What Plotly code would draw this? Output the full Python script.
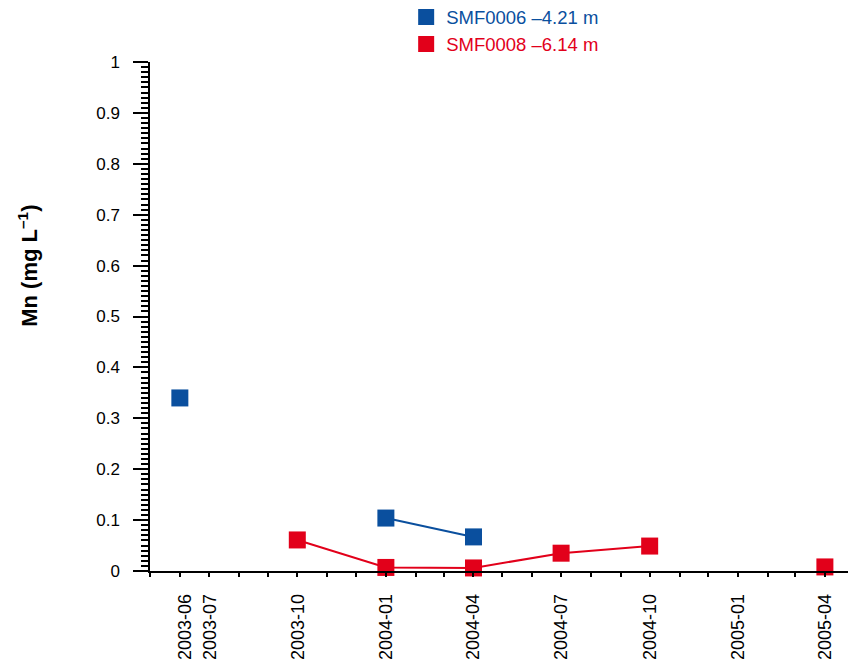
import plotly.graph_objects as go

# Sampling dates and Mn concentrations (mg/L); None marks a missing sample
dates = ["2003-06-01", "2003-10-01", "2004-01-01", "2004-04-01",
         "2004-07-01", "2004-10-01", "2005-01-01", "2005-04-01"]
smf0006 = [0.340, None, 0.104, 0.067, None, None, None, None]
smf0008 = [None, 0.061, 0.007, 0.006, 0.035, 0.049, None, 0.008]

series_names = ["SMF0006 \u20134.21 m", "SMF0008 \u20136.14 m"]
series_colors = ["#0a4f9e", "#e2001a"]

tick_dates = ["2003-06-07", "2003-07-03", "2003-10-02", "2004-01-01",
              "2004-04-01", "2004-07-01", "2004-10-01", "2005-01-01", "2005-04-01"]
tick_labels = ["2003-06", "2003-07", "2003-10", "2004-01",
               "2004-04", "2004-07", "2004-10", "2005-01", "2005-04"]
month_ticks = [f"{y}-{m:02d}-01" for y in (2003, 2004, 2005) for m in range(1, 13)
               if "2003-05-01" <= f"{y}-{m:02d}-01" <= "2005-04-01"]

FONT = "Arial, 'Liberation Sans', sans-serif"

fig = go.Figure()
for vals, name, color in zip([smf0006, smf0008], series_names, series_colors):
    # connecting line between consecutive samples
    fig.add_trace(go.Scatter(
        x=dates, y=vals, mode="lines", line=dict(color=color, width=2),
        connectgaps=False, showlegend=False, hoverinfo="skip", cliponaxis=False))
    # sample markers
    fig.add_trace(go.Scatter(
        x=dates, y=vals, mode="markers",
        name=f"<span style='color:{color}'>{name}</span>",
        marker=dict(symbol="square", size=17, color=color),
        cliponaxis=False))

fig.update_layout(
    width=848, height=668,
    margin=dict(l=150, r=0, t=62, b=97, autoexpand=False),
    plot_bgcolor="white", paper_bgcolor="white",
    font=dict(family=FONT, size=17, color="black"),
    legend=dict(x=0.367, y=1.125, xanchor="left", yanchor="top",
                font=dict(size=18.5), itemsizing="trace",
                bgcolor="rgba(0,0,0,0)", tracegroupgap=0),
    annotations=[dict(
        text="<b>Mn (mg L<sup>\u20131</sup>)</b>", textangle=-90,
        xref="paper", yref="paper", x=-0.176, y=0.6,
        xanchor="center", yanchor="middle", showarrow=False,
        font=dict(size=22, family=FONT))],
)

fig.update_xaxes(
    type="date", range=["2003-05-01", "2005-04-25"],
    showgrid=False, zeroline=False,
    showline=True, linecolor="black", linewidth=1.5,
    tickmode="array", tickvals=tick_dates, ticktext=tick_labels,
    ticks="", tickangle=-90, ticklabelstandoff=14,
    tickfont=dict(size=18),
    minor=dict(tickmode="array", tickvals=month_ticks, ticks="outside",
               ticklen=4, tickcolor="black", tickwidth=1.5, showgrid=False),
)

fig.update_yaxes(
    range=[0, 1], showgrid=False, zeroline=False,
    showline=True, linecolor="black", linewidth=1.5,
    tickmode="linear", tick0=0, dtick=0.1,
    ticks="outside", ticklen=15, tickwidth=1.5, tickcolor="black",
    tickfont=dict(size=17), ticklabelstandoff=10,
    minor=dict(dtick=0.01, ticks="outside", ticklen=7, tickwidth=1.5,
               tickcolor="black", showgrid=False),
)

fig.write_html("out.html")
